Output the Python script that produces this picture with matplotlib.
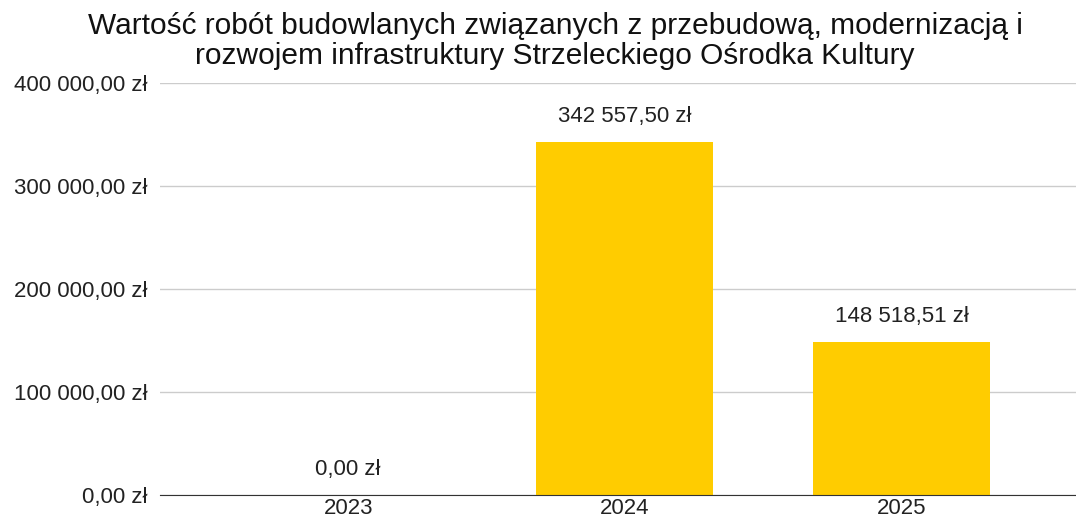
import matplotlib.pyplot as plt

plt.rcParams['font.family'] = ['Liberation Sans', 'DejaVu Sans']

years = ['2023', '2024', '2025']
values = [0.00, 342557.50, 148518.51]
yticks = [0, 100000, 200000, 300000, 400000]
title = ("Wartość robót budowlanych związanych z przebudową, modernizacją i\n"
         "rozwojem infrastruktury Strzeleckiego Ośrodka Kultury")


def zl(v):
    s = f"{v:,.2f}".replace(",", " ").replace(".", ",")
    return s + " zł"


fig = plt.figure(figsize=(10.76, 5.22), dpi=100)
ax = fig.add_axes([0.1487, 0.0517, 0.8513, 0.7893])

x = range(len(years))
bars = ax.bar(x, values, width=0.64, color='#FFCC00', zorder=3)
for xi, v in zip(x, values):
    ax.annotate(zl(v), (xi, v), xytext=(0, 11), textcoords='offset points',
                ha='center', va='bottom', fontsize=16, color='#222222')

ax.set_xlim(-0.68, 2.63)
ax.set_ylim(0, 400000)
ax.set_yticks(yticks)
ax.set_yticklabels([zl(t) for t in yticks], fontsize=16, color='#222222')
ax.set_xticks(list(x))
ax.set_xticklabels(years, fontsize=16, color='#222222')
ax.tick_params(axis='y', length=0, pad=9)
ax.tick_params(axis='x', length=0, pad=2)
ax.grid(axis='y', color='#cccccc', linewidth=1, zorder=0)
for side in ['top', 'right', 'left']:
    ax.spines[side].set_visible(False)
ax.spines['bottom'].set_color('#333333')
ax.spines['bottom'].set_zorder(4)

fig.text(0.516, 0.977, title, ha='center', va='top', fontsize=21.5,
         color='#111111', linespacing=1.1)

fig.savefig('out.png', dpi=100)
